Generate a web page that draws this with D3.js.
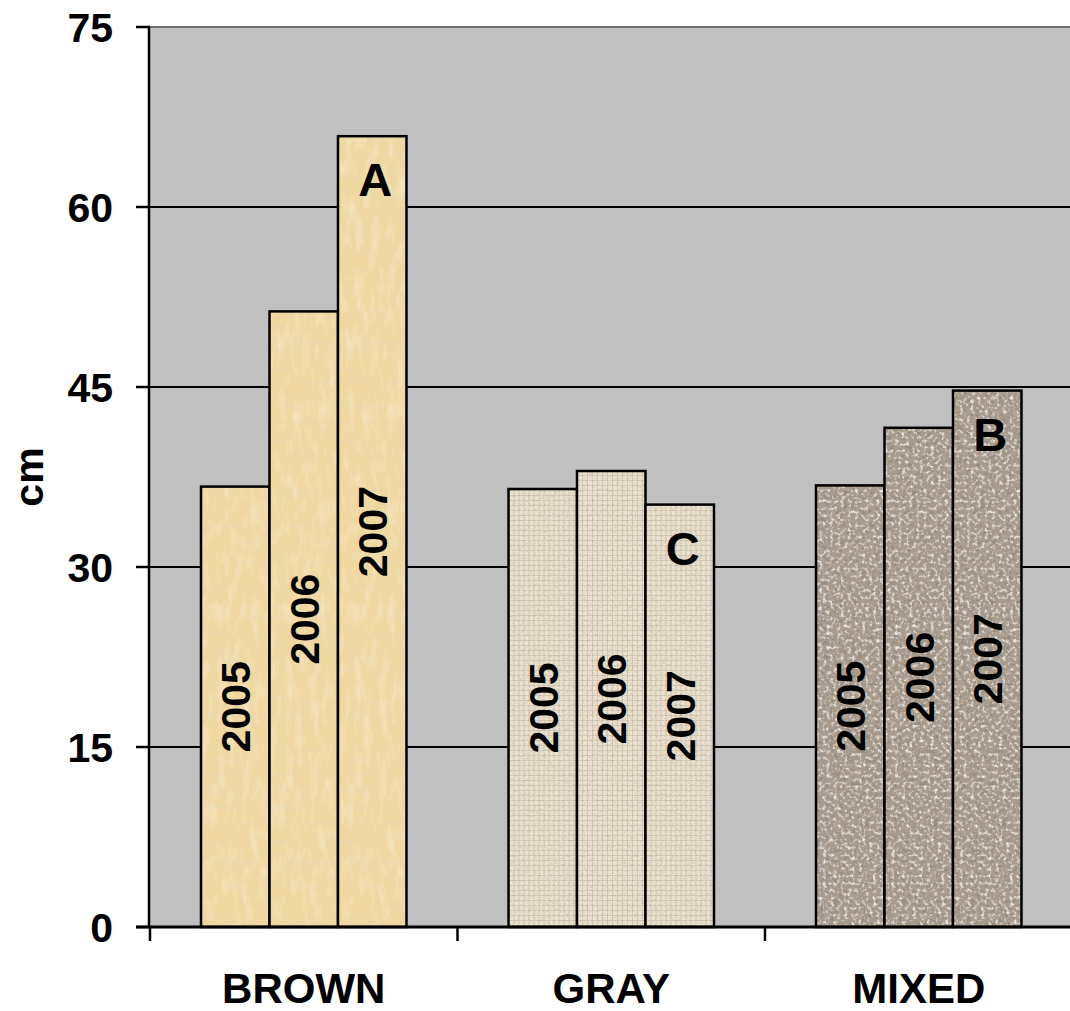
<!DOCTYPE html>
<html>
<head>
<meta charset="utf-8">
<script src="https://cdn.jsdelivr.net/npm/d3@7"></script>
<style>
  body { margin: 0; background: #fff; }
  text { font-family: "Liberation Sans", Arial, sans-serif; font-weight: bold; fill: #000; }
</style>
</head>
<body>
<div id="chart"></div>
<script>
// Data.
const categories = ["BROWN", "GRAY", "MIXED"];
const years = ["2005", "2006", "2007"];
const values = {
    BROWN: [36.7, 51.3, 65.9],
    GRAY: [36.5, 38.0, 35.2],
    MIXED: [36.8, 41.6, 44.7]
};
const letters = [
    {category: "BROWN", year: "2007", text: "A"},
    {category: "GRAY", year: "2007", text: "C"},
    {category: "MIXED", year: "2007", text: "B"}
];
const yTicks = [0, 15, 30, 45, 60, 75];

const width = 1070;
const height = 1011;
const margin = {top: 27, right: -2.5, bottom: 84, left: 150};

const svg = d3.select("#chart")
    .append("svg")
    .attr("width", width)
    .attr("height", height);

const defs = svg.append("defs");

// Textures for the three bar groups, made with turbulence filters.
function textureFilter(id, base, freq, octaves, seed, matrix) {
    const f = defs.append("filter")
        .attr("id", id)
        .attr("x", 0).attr("y", 0).attr("width", "100%").attr("height", "100%");
    f.append("feFlood").attr("flood-color", base).attr("result", "base");
    f.append("feTurbulence")
        .attr("type", "fractalNoise")
        .attr("baseFrequency", freq)
        .attr("numOctaves", octaves)
        .attr("seed", seed)
        .attr("result", "noise");
    f.append("feColorMatrix")
        .attr("in", "noise")
        .attr("type", "matrix")
        .attr("values", matrix)
        .attr("result", "tex");
    f.append("feComposite").attr("in", "tex").attr("in2", "base").attr("operator", "over").attr("result", "all");
    f.append("feComposite").attr("in", "all").attr("in2", "SourceGraphic").attr("operator", "in");
}

textureFilter("texBrown", "#efd7a0", "0.02 0.15", 3, 4,
    "0 0 0 0 0.8  0 0 0 0 0.68  0 0 0 0 0.42  1.6 0 0 0 -0.7");
textureFilter("texGray", "#ebe2d0", "0.45 0.45", 2, 7,
    "0 0 0 0 0.6  0 0 0 0 0.56  0 0 0 0 0.48  2.2 0 0 0 -1.0");
textureFilter("texMixed", "#a99c8f", "0.22", 2, 11,
    "0 0 0 0 0.3  0 0 0 0 0.26  0 0 0 0 0.22  3.4 0 0 0 -1.6");

// Woven lines for the gray bars.
const weave = defs.append("pattern")
    .attr("id", "weave")
    .attr("patternUnits", "userSpaceOnUse")
    .attr("width", 5).attr("height", 5);
weave.append("rect").attr("x", 0).attr("y", 0).attr("width", 1).attr("height", 5).attr("fill", "#a89a80").attr("opacity", 0.35);
weave.append("rect").attr("x", 0).attr("y", 0).attr("width", 5).attr("height", 1).attr("fill", "#a89a80").attr("opacity", 0.3);

// Faint light flecks for the brown bars.
const brownLight = defs.append("filter")
    .attr("id", "brownLight")
    .attr("x", 0).attr("y", 0).attr("width", "100%").attr("height", "100%");
brownLight.append("feTurbulence")
    .attr("type", "fractalNoise").attr("baseFrequency", "0.12 0.04").attr("numOctaves", 3).attr("seed", 9)
    .attr("result", "noise");
brownLight.append("feColorMatrix")
    .attr("in", "noise").attr("type", "matrix")
    .attr("values", "0 0 0 0 0.97  0 0 0 0 0.9  0 0 0 0 0.74  1.1 0 0 0 -0.5")
    .attr("result", "tex");
brownLight.append("feComposite").attr("in", "tex").attr("in2", "SourceGraphic").attr("operator", "in");

// Light speckles for the mixed bars.
const lightSpeck = defs.append("filter")
    .attr("id", "speckLight")
    .attr("x", 0).attr("y", 0).attr("width", "100%").attr("height", "100%");
lightSpeck.append("feTurbulence")
    .attr("type", "fractalNoise").attr("baseFrequency", "0.28").attr("numOctaves", 2).attr("seed", 23)
    .attr("result", "noise");
lightSpeck.append("feColorMatrix")
    .attr("in", "noise").attr("type", "matrix")
    .attr("values", "0 0 0 0 0.86  0 0 0 0 0.83  0 0 0 0 0.78  3.2 0 0 0 -1.6")
    .attr("result", "tex");
lightSpeck.append("feComposite").attr("in", "tex").attr("in2", "SourceGraphic").attr("operator", "in");

const fills = {BROWN: "texBrown", GRAY: "texGray", MIXED: "texMixed"};
const overlays = {BROWN: "url(#brownLight)", MIXED: "url(#speckLight)"};

// Scales.
const y = d3.scaleLinear()
    .domain([0, 75])
    .range([height - margin.bottom, margin.top]);

const x = d3.scaleBand()
    .domain(categories)
    .range([margin.left, width - margin.right]);

const xYear = d3.scaleBand()
    .domain(years)
    .range([0, x.bandwidth()])
    .paddingOuter(0.745);

// Plot background.
svg.append("rect")
    .attr("x", margin.left)
    .attr("y", y(75))
    .attr("width", width - margin.left)
    .attr("height", y(0) - y(75))
    .attr("fill", "#c0c0c0");

svg.append("line")
    .attr("x1", margin.left).attr("x2", width)
    .attr("y1", y(75)).attr("y2", y(75))
    .attr("stroke", "#6e6e6e")
    .attr("stroke-width", 2);

// Gridlines.
svg.append("g")
    .selectAll("line")
    .data(yTicks.filter(d => d > 0 && d < 75))
    .join("line")
    .attr("x1", margin.left).attr("x2", width)
    .attr("y1", d => y(d)).attr("y2", d => y(d))
    .attr("stroke", "#000")
    .attr("stroke-width", 2);

// Bars.
const rows = categories.flatMap(c => years.map((yr, i) => ({category: c, year: yr, value: values[c][i]})));

const bars = svg.append("g")
    .selectAll("g")
    .data(rows)
    .join("g")
    .attr("transform", d => `translate(${x(d.category) + xYear(d.year)},0)`);

bars.append("rect")
    .attr("y", d => y(d.value))
    .attr("width", xYear.bandwidth())
    .attr("height", d => y(0) - y(d.value))
    .attr("fill", "#fff")
    .attr("filter", d => `url(#${fills[d.category]})`);

bars.filter(d => d.category === "GRAY")
    .append("rect")
    .attr("y", d => y(d.value))
    .attr("width", xYear.bandwidth())
    .attr("height", d => y(0) - y(d.value))
    .attr("fill", "url(#weave)");

bars.filter(d => overlays[d.category])
    .append("rect")
    .attr("y", d => y(d.value))
    .attr("width", xYear.bandwidth())
    .attr("height", d => y(0) - y(d.value))
    .attr("fill", "#fff")
    .attr("filter", d => overlays[d.category]);

bars.append("rect")
    .attr("y", d => y(d.value))
    .attr("width", xYear.bandwidth())
    .attr("height", d => y(0) - y(d.value))
    .attr("fill", "none")
    .attr("stroke", "#000")
    .attr("stroke-width", 2.5);

// Year labels, rotated, centred at half the bar height.
bars.append("text")
    .attr("transform", d => `translate(${xYear.bandwidth() / 2},${y(d.value / 2)}) rotate(-90)`)
    .attr("text-anchor", "middle")
    .attr("dy", "0.36em")
    .attr("font-size", 41)
    .text(d => d.year);

// Letters on top of the tallest bars.
svg.append("g")
    .selectAll("text")
    .data(letters)
    .join("text")
    .attr("x", d => x(d.category) + xYear(d.year) + xYear.bandwidth() / 2 + 3)
    .attr("y", d => y(values[d.category][years.indexOf(d.year)]) + 60)
    .attr("text-anchor", "middle")
    .attr("font-size", 47)
    .text(d => d.text);

// Axes.
const yAxis = svg.append("g");
yAxis.append("line")
    .attr("x1", margin.left - 1).attr("x2", margin.left - 1)
    .attr("y1", y(75)).attr("y2", y(0))
    .attr("stroke", "#000").attr("stroke-width", 2.5);
yAxis.selectAll(".tick")
    .data(yTicks)
    .join("line")
    .attr("x1", margin.left - 14).attr("x2", margin.left)
    .attr("y1", d => y(d)).attr("y2", d => y(d))
    .attr("stroke", "#000").attr("stroke-width", 2.5);
yAxis.selectAll("text")
    .data(yTicks)
    .join("text")
    .attr("x", 113)
    .attr("y", d => y(d))
    .attr("dy", "0.36em")
    .attr("text-anchor", "end")
    .attr("font-size", 41)
    .text(d => d);

const xAxis = svg.append("g");
xAxis.append("line")
    .attr("x1", margin.left - 14).attr("x2", width)
    .attr("y1", y(0)).attr("y2", y(0))
    .attr("stroke", "#000").attr("stroke-width", 3);
xAxis.selectAll(".tick")
    .data(categories)
    .join("line")
    .attr("x1", d => x(d)).attr("x2", d => x(d))
    .attr("y1", y(0)).attr("y2", y(0) + 14)
    .attr("stroke", "#000").attr("stroke-width", 2.5);
xAxis.selectAll("text")
    .data(categories)
    .join("text")
    .attr("x", d => x(d) + x.bandwidth() / 2)
    .attr("y", 1003)
    .attr("text-anchor", "middle")
    .attr("font-size", 42)
    .text(d => d);

// Y axis title.
svg.append("text")
    .attr("transform", `translate(43,${(y(0) + y(75)) / 2}) rotate(-90)`)
    .attr("text-anchor", "middle")
    .attr("font-size", 41)
    .text("cm");
</script>
</body>
</html>
